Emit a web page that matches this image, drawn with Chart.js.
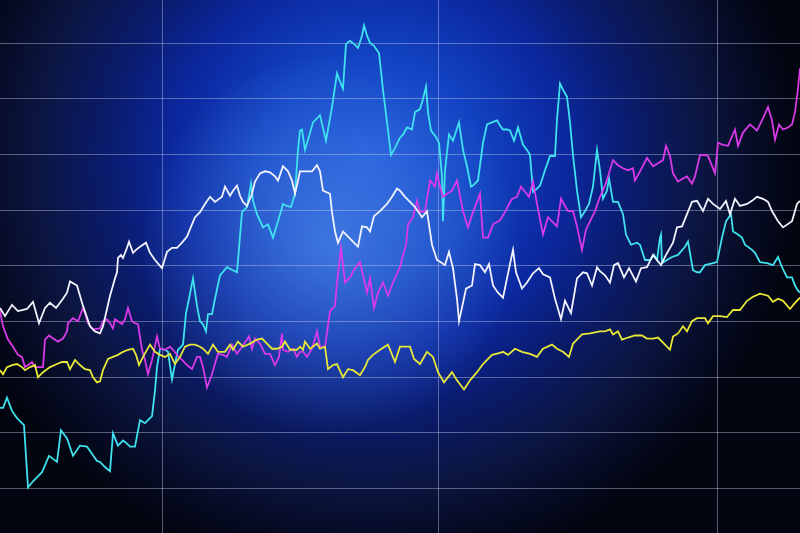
<!DOCTYPE html>
<html>
<head>
<meta charset="utf-8">
<script src="https://cdn.jsdelivr.net/npm/chart.js@4.4.1/dist/chart.umd.min.js"></script>
<style>
  html, body { margin: 0; padding: 0; }
  body {
    width: 800px; height: 533px; overflow: hidden;
    background:
      radial-gradient(circle 190px at 330px 245px, rgba(90,150,240,0.6), rgba(90,150,240,0)),
      radial-gradient(ellipse 430px 420px at 370px 160px, #1d56d8 0%, #1243c2 25%, #0b28a0 45%, #0a1b6a 62%, #0b1540 78%, #060b24 90%, #02040f 100%);
  }
  #wrap { width: 800px; height: 533px; }
</style>
</head>
<body>
<div id="wrap"><canvas id="chart" width="800" height="533"></canvas></div>
<script>
// ===============================
// Data (x = time step, y = level)
// ===============================

const cyanPoints = [[0,400],[3,400],[7,390],[12,403],[17,410],[24,417],[28,478],[33,472],[42,463],[49,447],[57,453],[61,422],[67,430],[73,447],[80,437],[87,438],[92,445],[97,452],[100,453],[105,458],[110,462],[113,425],[118,437],[123,432],[127,435],[130,438],[135,438],[140,412],[145,415],[148,412],[152,408],[155,383],[157,360],[160,342],[165,343],[168,345],[172,372],[175,357],[178,343],[183,338],[186,307],[189,293],[193,273],[197,300],[200,315],[203,318],[206,325],[208,308],[212,308],[215,293],[220,270],[227,262],[233,265],[237,267],[242,208],[247,203],[251,180],[253,197],[257,210],[263,223],[268,220],[273,233],[278,217],[283,200],[287,202],[291,203],[295,190],[298,147],[300,128],[302,127],[305,147],[308,137],[313,120],[320,113],[326,138],[332,105],[337,72],[340,80],[343,87],[346,43],[350,40],[354,43],[358,47],[362,35],[364,25],[367,35],[370,42],[374,45],[379,52],[383,88],[387,120],[391,152],[395,145],[400,135],[403,132],[407,125],[412,127],[415,110],[420,107],[423,97],[426,85],[428,110],[431,128],[435,133],[439,140],[442,173],[443,217],[445,167],[449,132],[453,138],[459,120],[463,147],[467,163],[471,183],[473,182],[478,177],[483,140],[487,122],[492,120],[497,118],[500,123],[503,127],[507,127],[510,128],[514,138],[518,125],[523,142],[527,147],[530,152],[533,188],[537,185],[540,182],[545,167],[550,153],[555,153],[557,117],[560,82],[563,88],[567,95],[570,120],[573,152],[577,187],[581,213],[585,207],[589,200],[593,183],[597,147],[600,167],[603,195],[607,187],[609,175],[613,198],[618,198],[623,210],[626,230],[631,240],[637,238],[640,240],[645,255],[650,255],[654,250],[657,255],[660,233],[661,230],[662,258],[667,255],[672,252],[678,250],[685,242],[688,237],[693,265],[697,267],[700,267],[705,260],[713,258],[717,257],[722,233],[726,217],[731,210],[733,227],[738,230],[742,233],[745,240],[752,245],[755,248],[760,257],[767,258],[773,260],[778,252],[782,262],[787,272],[792,272],[795,280],[798,285],[800,287]];

const magentaPoints = [[0,305],[3,320],[8,333],[13,340],[18,348],[22,350],[25,360],[28,358],[32,355],[35,360],[43,360],[45,333],[49,329],[53,332],[58,335],[63,332],[67,325],[68,317],[73,312],[78,315],[83,302],[85,307],[88,317],[93,323],[100,322],[103,315],[107,313],[110,317],[113,322],[115,313],[118,315],[122,318],[125,313],[128,302],[132,315],[135,317],[138,318],[142,343],[145,353],[148,367],[152,353],[157,330],[160,342],[165,343],[170,340],[173,343],[177,348],[182,353],[187,358],[192,362],[197,350],[200,350],[203,360],[207,380],[212,367],[216,353],[218,347],[223,348],[227,350],[232,338],[237,347],[242,340],[247,333],[249,330],[252,342],[255,332],[260,337],[265,347],[270,347],[275,358],[279,350],[282,327],[283,343],[288,345],[293,342],[297,350],[300,345],[303,345],[307,350],[312,342],[317,325],[320,340],[325,340],[330,305],[335,300],[337,277],[341,243],[345,277],[350,272],[355,263],[360,257],[363,270],[367,287],[370,273],[374,302],[378,287],[383,277],[388,290],[393,277],[400,262],[403,250],[406,240],[408,220],[413,213],[417,197],[420,208],[425,207],[430,177],[435,183],[437,170],[440,183],[443,193],[447,190],[452,187],[457,177],[463,207],[468,223],[473,208],[480,190],[483,233],[488,233],[493,220],[500,216],[505,208],[508,202],[512,195],[517,193],[521,183],[525,188],[529,193],[533,178],[537,200],[543,230],[548,213],[553,218],[557,222],[561,195],[565,202],[568,207],[573,207],[577,222],[582,245],[586,225],[590,217],[595,207],[600,193],[605,182],[608,173],[613,157],[618,162],[623,165],[628,167],[633,165],[635,177],[640,168],[647,155],[653,163],[658,160],[663,157],[666,143],[670,153],[673,170],[678,178],[683,175],[687,173],[692,180],[695,173],[700,152],[705,152],[708,153],[715,170],[718,140],[723,142],[728,143],[735,127],[738,143],[743,130],[750,122],[757,128],[762,118],[768,105],[772,118],[775,137],[779,122],[783,127],[788,125],[792,122],[795,110],[798,87],[800,67]];

const whitePoints = [[0,302],[5,310],[12,299],[18,305],[27,303],[33,296],[39,317],[45,302],[50,297],[56,302],[63,293],[67,287],[70,276],[77,280],[83,300],[90,320],[95,325],[100,327],[103,320],[107,303],[110,290],[113,280],[115,273],[117,267],[118,253],[121,250],[123,253],[127,243],[129,237],[133,248],[136,245],[140,242],[146,238],[150,248],[155,255],[162,263],[167,247],[172,243],[177,243],[182,238],[187,232],[192,220],[195,213],[200,208],[205,200],[210,193],[215,198],[222,193],[225,183],[230,192],[233,187],[237,182],[240,192],[243,198],[247,202],[252,190],[255,178],[260,170],[265,168],[270,169],[275,173],[278,177],[283,163],[288,168],[292,177],[295,190],[298,177],[300,168],[305,168],[312,168],[317,162],[320,168],[323,187],[330,190],[332,208],[335,227],[338,238],[343,227],[348,232],[353,237],[358,242],[362,222],[367,223],[370,227],[374,212],[380,207],[387,200],[392,193],[397,185],[400,187],[405,193],[410,198],[415,203],[422,213],[427,207],[432,240],[437,255],[442,258],[445,260],[449,247],[453,263],[457,293],[459,315],[463,297],[466,283],[472,280],[475,259],[480,260],[485,267],[489,259],[493,280],[498,287],[503,292],[507,273],[513,245],[516,267],[522,283],[527,277],[533,268],[539,263],[543,269],[550,272],[555,293],[561,313],[565,295],[571,307],[577,273],[583,267],[587,268],[592,280],[597,262],[600,266],[605,270],[610,277],[614,260],[618,258],[624,272],[629,263],[636,276],[641,263],[647,262],[653,250],[657,255],[661,260],[666,250],[673,238],[677,223],[682,222],[687,210],[692,198],[697,197],[703,207],[708,195],[713,200],[720,205],[726,197],[730,210],[735,195],[740,202],[747,200],[752,197],[757,193],[763,195],[768,198],[772,207],[778,217],[783,223],[792,217],[797,200],[800,197]];

const yellowPoints = [[0,363],[3,367],[7,360],[12,358],[17,357],[22,360],[25,363],[30,360],[35,358],[38,370],[43,365],[50,360],[57,357],[62,355],[67,355],[70,362],[75,353],[80,358],[85,362],[90,363],[93,370],[97,375],[100,374],[103,363],[108,352],[113,350],[118,348],[123,345],[128,343],[133,342],[136,348],[139,358],[143,350],[150,338],[155,345],[160,348],[165,350],[170,347],[175,357],[180,350],[185,340],[190,338],[195,338],[200,340],[203,342],[208,347],[213,338],[218,345],[225,345],[230,338],[233,343],[238,335],[243,340],[250,337],[257,333],[262,332],[267,337],[272,342],[277,342],[282,340],[285,335],[290,343],[297,343],[300,340],[303,343],[305,335],[310,342],[317,337],[320,342],[325,340],[328,362],[333,358],[337,357],[343,370],[348,362],[353,363],[360,368],[365,360],[368,353],[373,348],[380,343],[388,338],[395,355],[400,340],[410,340],[414,352],[420,357],[427,345],[433,350],[438,365],[444,375],[452,365],[457,373],[464,382],[470,373],[477,365],[483,357],[492,348],[500,346],[503,345],[508,348],[515,342],[522,345],[530,347],[537,350],[543,342],[552,338],[557,342],[563,345],[569,350],[573,337],[582,328],[590,327],[600,325],[605,325],[610,323],[613,328],[618,325],[622,333],[628,331],[635,329],[642,329],[647,332],[653,332],[658,331],[665,338],[670,343],[673,330],[678,327],[683,320],[687,325],[692,315],[697,312],[700,312],[705,312],[708,317],[713,310],[720,310],[727,311],[733,304],[740,304],[747,295],[753,291],[760,288],[768,290],[773,296],[778,293],[783,295],[790,303],[795,297],[800,292]];

// grid positions (tick values on each axis)
const gridX = [162, 439, 717];
const gridY = [42.4, 97.0, 151.6, 206.2, 260.8, 315.4, 370.0, 424.6, 479.2];

// ===============================
// Chart
// ===============================

const toXY = pts => pts.map(p => ({ x: p[0], y: p[1] }));

function lineSet(label, pts, color) {
    return {
        label: label,
        data: toXY(pts),
        borderColor: color,
        borderWidth: 1.8,
        pointRadius: 0,
        tension: 0,
        fill: false
    };
}

const gridOpts = {
    color: "rgba(200,205,230,0.42)",
    lineWidth: 1,
    drawTicks: false
};

new Chart(document.getElementById("chart"), {
    type: "line",
    data: {
        datasets: [
            lineSet("White", whitePoints, "#f2f3ff"),
            lineSet("Yellow", yellowPoints, "#e8e838"),
            lineSet("Magenta", magentaPoints, "#d83ae8"),
            lineSet("Cyan", cyanPoints, "#3fe2ee")
        ]
    },
    options: {
        responsive: false,
        animation: false,
        layout: { padding: 0 },
        plugins: {
            legend: { display: false },
            tooltip: { enabled: false }
        },
        scales: {
            x: {
                type: "linear",
                min: 0,
                max: 800,
                afterBuildTicks: s => { s.ticks = gridX.map(v => ({ value: v })); },
                ticks: { display: false },
                border: { display: false },
                grid: gridOpts
            },
            y: {
                type: "linear",
                reverse: true,
                min: 0,
                max: 522.7,
                afterBuildTicks: s => { s.ticks = gridY.map(v => ({ value: v })); },
                ticks: { display: false },
                border: { display: false },
                grid: gridOpts
            }
        }
    }
});
</script>
</body>
</html>
